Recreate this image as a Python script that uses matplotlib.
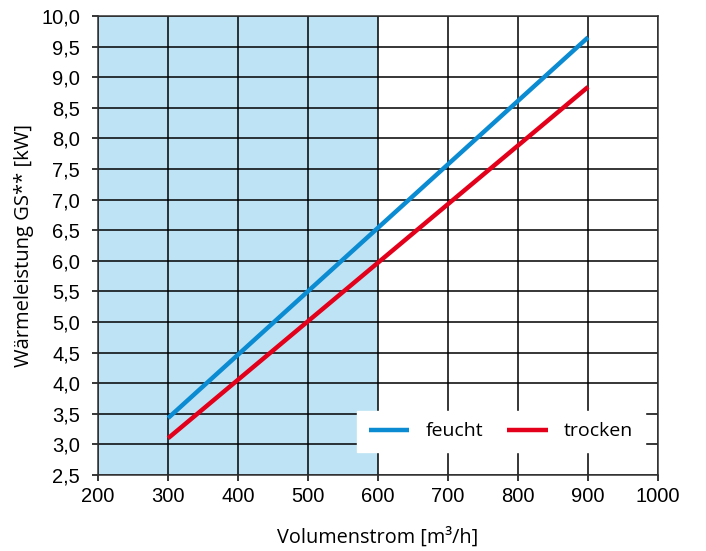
import matplotlib
matplotlib.use("Agg")
import matplotlib.pyplot as plt
from matplotlib.ticker import FuncFormatter, MultipleLocator

# data
volumenstrom = [300, 600, 900]
feucht = [3.43, 6.54, 9.65]
trocken = [3.10, 5.97, 8.84]
bereich = (200, 600)   # shaded range

xticks = list(range(200, 1001, 100))
blue = '#0a8bd2'
red = '#e2001a'
shade = '#bde3f4'

tick_font = 'Liberation Sans'
label_font = 'Open Sans'

fig = plt.figure(figsize=(7.06, 5.51), dpi=100)
ax = fig.add_axes([0.139, 0.138, 0.793, 0.833])

ax.axvspan(*bereich, color=shade, zorder=0, lw=0)
ax.plot(volumenstrom, feucht, color=blue, lw=3.2, solid_capstyle='butt', label='feucht', zorder=3)
ax.plot(volumenstrom, trocken, color=red, lw=3.2, solid_capstyle='butt', label='trocken', zorder=3)

ax.set_xlim(200, 1000)
ax.set_ylim(2.5, 10.0)
ax.set_xticks(xticks)
ax.yaxis.set_major_locator(MultipleLocator(0.5))
ax.yaxis.set_major_formatter(FuncFormatter(lambda v, p: f'{v:.1f}'.replace('.', ',')))
ax.grid(True, color='black', lw=1.1, zorder=1)
ax.set_axisbelow(True)
ax.tick_params(direction='out', length=4, width=1.1, labelsize=14.5)
ax.tick_params(axis='x', pad=5)
ax.tick_params(axis='y', pad=9)
for lab in ax.get_xticklabels() + ax.get_yticklabels():
    lab.set_fontfamily(tick_font)
for s in ax.spines.values():
    s.set_color('#333333')
    s.set_linewidth(1.1)

ax.set_xlabel('Volumenstrom [m³/h]', fontsize=14.3, family=label_font, labelpad=15)
ax.set_ylabel('Wärmeleistung GS** [kW]', fontsize=14.5, family=label_font, labelpad=5)

leg = ax.legend(loc='lower right', bbox_to_anchor=(0.977, 0.050), borderaxespad=0,
                ncol=2, frameon=True, fancybox=False, framealpha=1, edgecolor='white',
                handlelength=2.1, columnspacing=1.2, handletextpad=0.85, borderpad=0.6,
                prop={'family': label_font, 'size': 14})
leg.set_zorder(5)

fig.savefig('out.png', dpi=100)
